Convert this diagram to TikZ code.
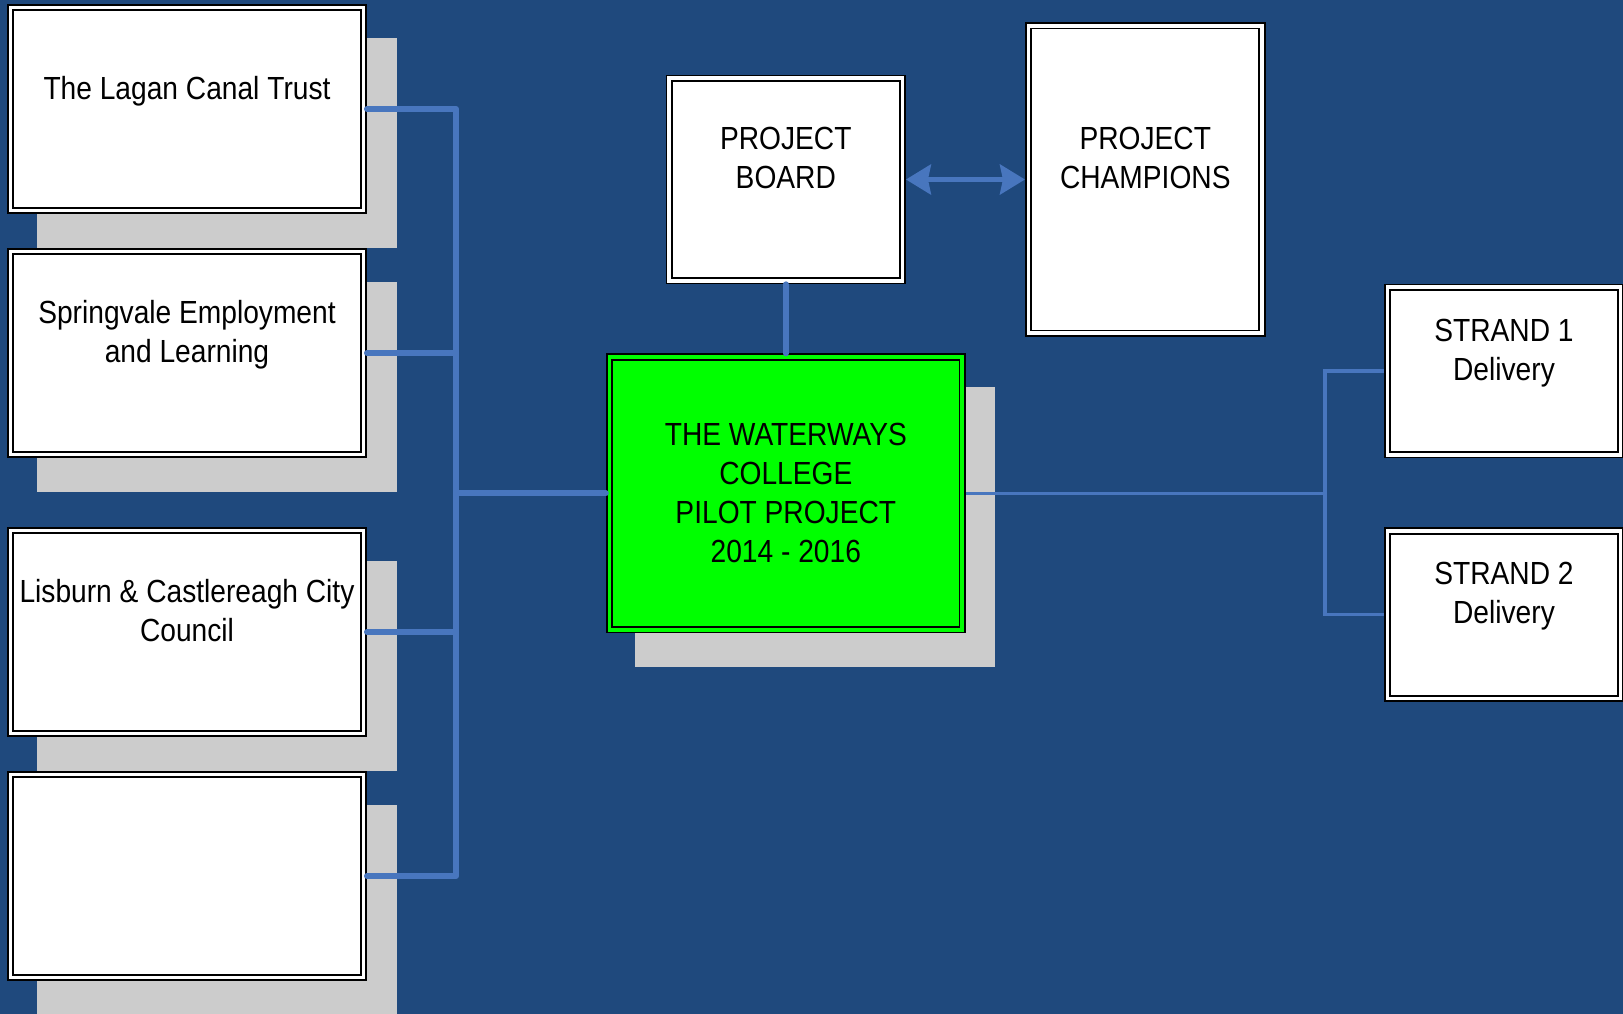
\documentclass[tikz,border=0pt]{standalone}
\usepackage{fontspec}
\setmainfont{Liberation Sans}[FakeStretch=0.88]
\usetikzlibrary{arrows.meta, positioning, backgrounds}

\definecolor{deepblue}{RGB}{31,73,125}
\definecolor{linkblue}{RGB}{72,118,190}
\definecolor{shadowgrey}{RGB}{204,204,204}
\definecolor{limegreen}{RGB}{0,255,0}

\newcommand{\tail}{\\\rule[-4pt]{0pt}{0pt}}

\tikzset{
    card/.style={rectangle, draw=black, fill=white, line width=1.8pt, double=white,
        double distance=3.6pt, outer sep=3.6pt, inner sep=0pt, align=center,
        font=\fontsize{32}{39}\selectfont},
    partner/.style={card, minimum width=352.8pt, minimum height=202.8pt},
    strand/.style={card, minimum width=232.8pt, minimum height=167.5pt},
    feed/.style={draw=linkblue, line width=6pt, line cap=round, line join=round},
    branch/.style={draw=linkblue, line width=3.3pt}
}

\begin{document}
\begin{tikzpicture}[x=1pt, y=-1pt]
    \useasboundingbox (0,0) rectangle (1623,1014);

    % partners
    \node (lagan) [partner] at (187,109) {The Lagan Canal Trust\tail};
    \node (spring) [partner, below=34pt of lagan] {Springvale Employment\\and Learning\tail};
    \node (lisburn) [partner, below=69pt of spring] {Lisburn \& Castlereagh City\\Council\tail};
    \node (blank) [partner, below=34pt of lisburn] {};

    % project
    \node (champ) [card, minimum width=233.5pt, minimum height=307.2pt] at (1145.3,179.5) {PROJECT\\CHAMPIONS\tail};
    \node (board) [card, minimum width=233.1pt, minimum height=202.5pt, left=119pt of champ] {PROJECT\\BOARD\tail};
    \node (college) [card, fill=limegreen, double=limegreen, minimum width=352.8pt, minimum height=272.8pt, below=69pt of board] {THE WATERWAYS\\COLLEGE\\PILOT PROJECT\\2014 - 2016};

    % delivery
    \node (strand1) [strand] at (1504,371) {STRAND 1\\Delivery\tail};
    \node (strand2) [strand, below=69pt of strand1] {STRAND 2\\Delivery\tail};

    \coordinate (bus) at (456,0);
    \coordinate (split) at (1325,0);

    \draw[feed] (lagan.east) -| (bus |- blank.east) -- (blank.east);
    \foreach \n in {spring, lisburn}
        \draw[feed] (\n.east) -- (bus |- \n.east);
    \draw[feed] (college.west) -- (bus |- college.west);
    \draw[feed] (board.south) -- (college.north);
    \draw[{Stealth[length=25pt, width=30pt, inset=3pt]}-{Stealth[length=25pt, width=30pt, inset=3pt]}, linkblue, line width=4.5pt] (board.east) -- (champ.west);

    \draw[branch] (college.east) -- (split |- college.east);
    \draw[branch] (strand1.west) -| (split |- strand2.west) -- (strand2.west);

    \begin{scope}[on background layer]
        \fill[deepblue] (0,0) rectangle (1623,1014);
        \foreach \n in {lagan, spring, lisburn, blank, college}
            \fill[shadowgrey] ([shift={(29.5pt,-34pt)}]\n.north west) rectangle ([shift={(29.5pt,-34pt)}]\n.south east);
    \end{scope}
\end{tikzpicture}
\end{document}
